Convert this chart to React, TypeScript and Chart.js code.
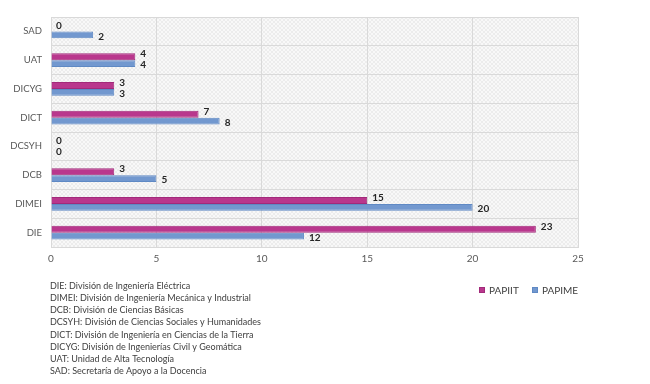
import React, { useEffect, useRef } from "react";
import { Chart, registerables } from "chart.js";

Chart.register(...registerables);

const categories = ["SAD", "UAT", "DICYG", "DICT", "DCSYH", "DCB", "DIMEI", "DIE"];
const papiit = [0, 4, 3, 7, 0, 3, 15, 23];
const papime = [2, 4, 3, 8, 0, 5, 20, 12];
const seriesNames = ["PAPIIT", "PAPIME"];
const xMin = 0;
const xMax = 25;
const xStep = 5;
const footnotes = [
  "DIE: División de Ingeniería Eléctrica",
  "DIMEI: División de Ingeniería Mecánica y Industrial",
  "DCB: División de Ciencias Básicas",
  "DCSYH: División de Ciencias Sociales y Humanidades",
  "DICT: División de Ingeniería en Ciencias de la Tierra",
  "DICYG: División de Ingenierías Civil y Geomática",
  "UAT: Unidad de Alta Tecnología",
  "SAD: Secretaría de Apoyo a la Docencia",
];

const MAGENTA = "#b9378d";
const MAGENTA_BORDER = "#a22a7a";
const BLUE = "#7298cf";
const BLUE_BORDER = "#5f89c4";
const FONT = "Lato, 'Open Sans', sans-serif";

function makePattern(ctx: CanvasRenderingContext2D) {
  const c = document.createElement("canvas");
  c.width = 4;
  c.height = 4;
  const p = c.getContext("2d")!;
  p.fillStyle = "#f8f8f8";
  p.fillRect(0, 0, 4, 4);
  p.fillStyle = "#ececec";
  for (let i = 0; i < 4; i++) {
    p.fillRect(i, 3 - i, 1, 1);
    p.fillRect(i, i, 1, 1);
  }
  return ctx.createPattern(c, "repeat");
}

const bgPlugin = {
  id: "bgPattern",
  beforeDraw(chart: any) {
    const { ctx, chartArea } = chart;
    ctx.save();
    ctx.fillStyle = "#ffffff";
    ctx.fillRect(0, 0, chart.width, chart.height);
    const pat = makePattern(ctx);
    if (pat) ctx.fillStyle = pat;
    ctx.fillRect(chartArea.left, chartArea.top, chartArea.right - chartArea.left, chartArea.bottom - chartArea.top);
    ctx.restore();
  },
};

const labelPlugin = {
  id: "valueLabels",
  afterDatasetsDraw(chart: any) {
    const { ctx } = chart;
    ctx.save();
    ctx.font = `bold 10px ${FONT}`;
    ctx.fillStyle = "#262626";
    ctx.textBaseline = "middle";
    ctx.textAlign = "left";
    const dy = [-2.5, 1.5];
    chart.data.datasets.forEach((ds: any, di: number) => {
      const meta = chart.getDatasetMeta(di);
      meta.data.forEach((el: any, i: number) => {
        ctx.fillText(String(ds.data[i]), el.x + 5, el.y + dy[di]);
      });
    });
    ctx.restore();
  },
};

const extrasPlugin = {
  id: "extras",
  afterDraw(chart: any) {
    const { ctx } = chart;
    ctx.save();
    ctx.font = `9px ${FONT}`;
    ctx.fillStyle = "#404040";
    ctx.textBaseline = "middle";
    ctx.textAlign = "left";
    footnotes.forEach((t, i) => {
      ctx.fillText(t, 50, 286 + i * 12.15);
    });
    const colors = [
      [MAGENTA, MAGENTA_BORDER],
      [BLUE, BLUE_BORDER],
    ];
    const xs = [479, 532];
    ctx.font = `10px ${FONT}`;
    seriesNames.forEach((n, i) => {
      ctx.fillStyle = colors[i][0];
      ctx.fillRect(xs[i], 287, 6, 6);
      ctx.strokeStyle = colors[i][1];
      ctx.lineWidth = 1;
      ctx.strokeRect(xs[i] + 0.5, 287.5, 5, 5);
      ctx.fillStyle = "#404040";
      ctx.fillText(n, xs[i] + 10, 290.5);
    });
    ctx.restore();
  },
};

export default function App() {
  const ref = useRef<HTMLCanvasElement | null>(null);
  useEffect(() => {
    if (!ref.current) return;
    const zeroBorder = (ctx: any) => (ctx.raw === 0 ? 0 : 1);
    const chart = new Chart(ref.current, {
      type: "bar",
      data: {
        labels: categories,
        datasets: [
          {
            label: seriesNames[0],
            data: papiit,
            backgroundColor: MAGENTA,
            borderColor: MAGENTA_BORDER,
            borderWidth: zeroBorder as any,
            categoryPercentage: 0.48,
            barPercentage: 1,
          },
          {
            label: seriesNames[1],
            data: papime,
            backgroundColor: BLUE,
            borderColor: BLUE_BORDER,
            borderWidth: zeroBorder as any,
            categoryPercentage: 0.48,
            barPercentage: 1,
          },
        ],
      },
      options: {
        indexAxis: "y",
        animation: false,
        responsive: false,
        devicePixelRatio: 1,
        layout: { padding: { top: 17, right: 72, bottom: 0, left: 0 } },
        plugins: { legend: { display: false }, tooltip: { enabled: false } },
        scales: {
          x: {
            min: xMin,
            max: xMax,
            ticks: {
              stepSize: xStep,
              padding: 6,
              color: "#595959",
              font: { family: FONT, size: 10 },
            },
            grid: { color: "#d9d9d9", drawTicks: false, lineWidth: 1 },
            border: { display: true, color: "#d9d9d9" },
            afterFit: (s: any) => {
              s.height = 384 - 247;
            },
          },
          y: {
            ticks: {
              padding: 9,
              color: "#595959",
              font: { family: FONT, size: 9.5 },
            },
            grid: { color: "#d9d9d9", drawTicks: false, offset: true, lineWidth: 1 },
            border: { display: true, color: "#d9d9d9" },
            afterFit: (s: any) => {
              s.width = 51;
            },
          },
        },
      },
      plugins: [bgPlugin, labelPlugin, extrasPlugin],
    });
    return () => chart.destroy();
  }, []);
  return (
    <div style={{ position: "absolute", left: 0, top: 0, width: 650, height: 384 }}>
      <canvas ref={ref} width={650} height={384} style={{ width: 650, height: 384, display: "block" }} />
    </div>
  );
}
